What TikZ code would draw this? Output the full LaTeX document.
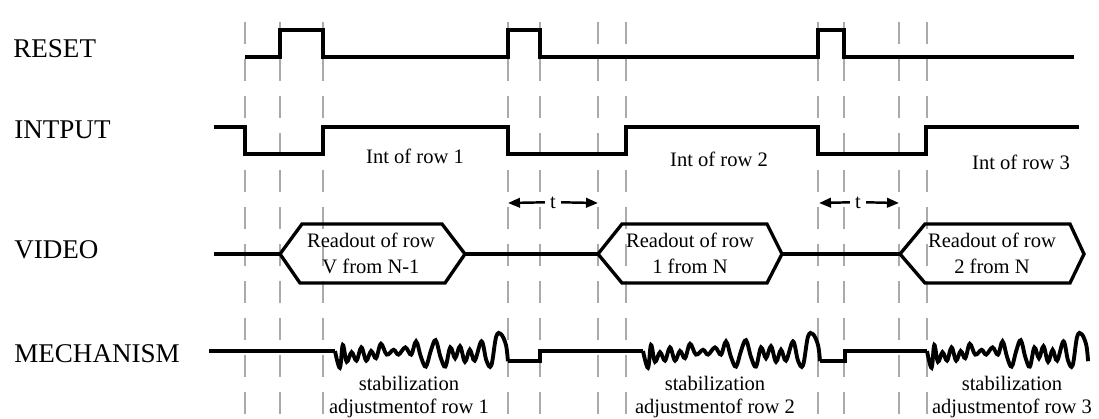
\documentclass[tikz,border=0pt]{standalone}
\usepackage{fontspec}
\setmainfont{Liberation Serif}
\usetikzlibrary{arrows.meta}
\definecolor{guidegray}{RGB}{170,170,170}
\newcommand{\wiggle}[2]{%
  \draw[sig, line width=2.2pt, xscale=#2, yscale=1.2, shift={(#1/#2,351/1.2)}] plot[smooth, tension=0.6] coordinates {(0,0) (5,14) (8,-5) (12,9) (17,1) (22,8) (27,-3) (32,8) (37,0) (42,6) (47,-6) (53,3) (60,-1) (65,3) (72,-3) (78,3) (83,-8) (88,5) (93,13) (98,0) (103,-9) (108,5) (113,13) (118,-3) (123,6) (128,-4) (133,9) (138,-1) (143,8) (150,-8) (155,8) (160,12) (165,-12) (170,-14) (175,-5) (177,8.5)};}
\begin{document}
\begin{tikzpicture}[x=0.02cm, y=-0.02cm,
  sig/.style={line width=1.9pt, line join=miter},
  guide/.style={guidegray, line width=0.85pt, dash pattern=on 0.44cm off 0.3cm},
  lbl/.style={anchor=base west, inner sep=0pt, font=\fontsize{15.4pt}{18pt}\selectfont},
  txt/.style={inner sep=0pt, align=center, font=\fontsize{11.7pt}{14.8pt}\selectfont},
  gap/.style={line width=1.4pt, -{Triangle[length=0.24cm,width=0.19cm]}}]
  \useasboundingbox (0,0) rectangle (1099,419);
  \foreach \x in {245,280,323,508,540,598,626,818,844,899,927}
    \draw[guide] (\x,22) -- (\x,419);
  \node[lbl] (rst) at (13,57) {RESET};
  \node[lbl] (inp) at (14,138) {INTPUT};
  \node[lbl] (vid) at (14,258) {VIDEO};
  \node[lbl] (mech) at (14,362) {MECHANISM};
  \draw[sig] (245,57) -- (280,57) -- (280,30) -- (323,30) -- (323,57) -- (508,57) -- (508,30) -- (540,30) -- (540,57) -- (818,57) -- (818,30) -- (844,30) -- (844,57) -- (1074,57);
  \draw[sig] (214,127) -- (245,127) -- (245,154) -- (323,154) -- (323,127) -- (508,127) -- (508,154) -- (626,154) -- (626,127) -- (818,127) -- (818,154) -- (926,154) -- (926,127) -- (1079,127);
  \node[txt, anchor=base] (int1) at (415,163) {Int of row 1};
  \node[txt, anchor=base] (int2) at (719,166) {Int of row 2};
  \node[txt, anchor=base] (int3) at (1021,169) {Int of row 3};
  \node[txt, anchor=base] (t1) at (553,208) {t};
  \node[txt, anchor=base] (t2) at (858,208) {t};
  \coordinate (t1l) at (508,203);
  \coordinate (t1r) at (598,203);
  \coordinate (t2l) at (819,203);
  \coordinate (t2r) at (899,203);
  \draw[gap] (t1.west) ++(-0.1cm,0) coordinate (t1a) (t1a) -- (t1l);
  \draw[gap] (t1.east) ++(0.1cm,0) coordinate (t1b) (t1b) -- (t1r);
  \draw[gap] (t2.west) ++(-0.1cm,0) coordinate (t2a) (t2a) -- (t2l);
  \draw[gap] (t2.east) ++(0.1cm,0) coordinate (t2b) (t2b) -- (t2r);
  \draw[sig] (214,254) -- (280,254);
  \draw[sig] (280,254) -- (302,224) -- (442,224) -- (465,254) -- (445,283) -- (300,283) -- cycle;
  \draw[sig] (465,254) -- (598,254);
  \draw[sig] (598,254) -- (622,224) -- (767,224) -- (782,254) -- (767,283) -- (622,283) -- cycle;
  \draw[sig] (782,254) -- (900,254);
  \draw[sig] (900,254) -- (925,224) -- (1070,224) -- (1084,254) -- (1070,283) -- (925,283) -- cycle;
  \node[txt] (rd1) at (371,253) {Readout of row\\V from N-1};
  \node[txt] (rd2) at (690,253) {Readout of row\\1 from N};
  \node[txt] (rd3) at (992,253) {Readout of row\\2 from N};
  \draw[sig] (209,351) -- (335,351);
  \wiggle{335}{0.977}
  \draw[sig] (508,361) -- (540,361) -- (540,351) -- (643,351);
  \wiggle{643}{1}
  \draw[sig] (820,361) -- (845,361) -- (845,351) -- (927,351);
  \wiggle{927}{0.91}
  \node[txt, font=\fontsize{11.7pt}{13pt}\selectfont] (stab1) at (409,397) {stabilization\\adjustmentof row 1};
  \node[txt, font=\fontsize{11.7pt}{13pt}\selectfont] (stab2) at (715,397) {stabilization\\adjustmentof row 2};
  \node[txt, font=\fontsize{11.7pt}{13pt}\selectfont] (stab3) at (1012,397) {stabilization\\adjustmentof row 3};
\end{tikzpicture}
\end{document}
